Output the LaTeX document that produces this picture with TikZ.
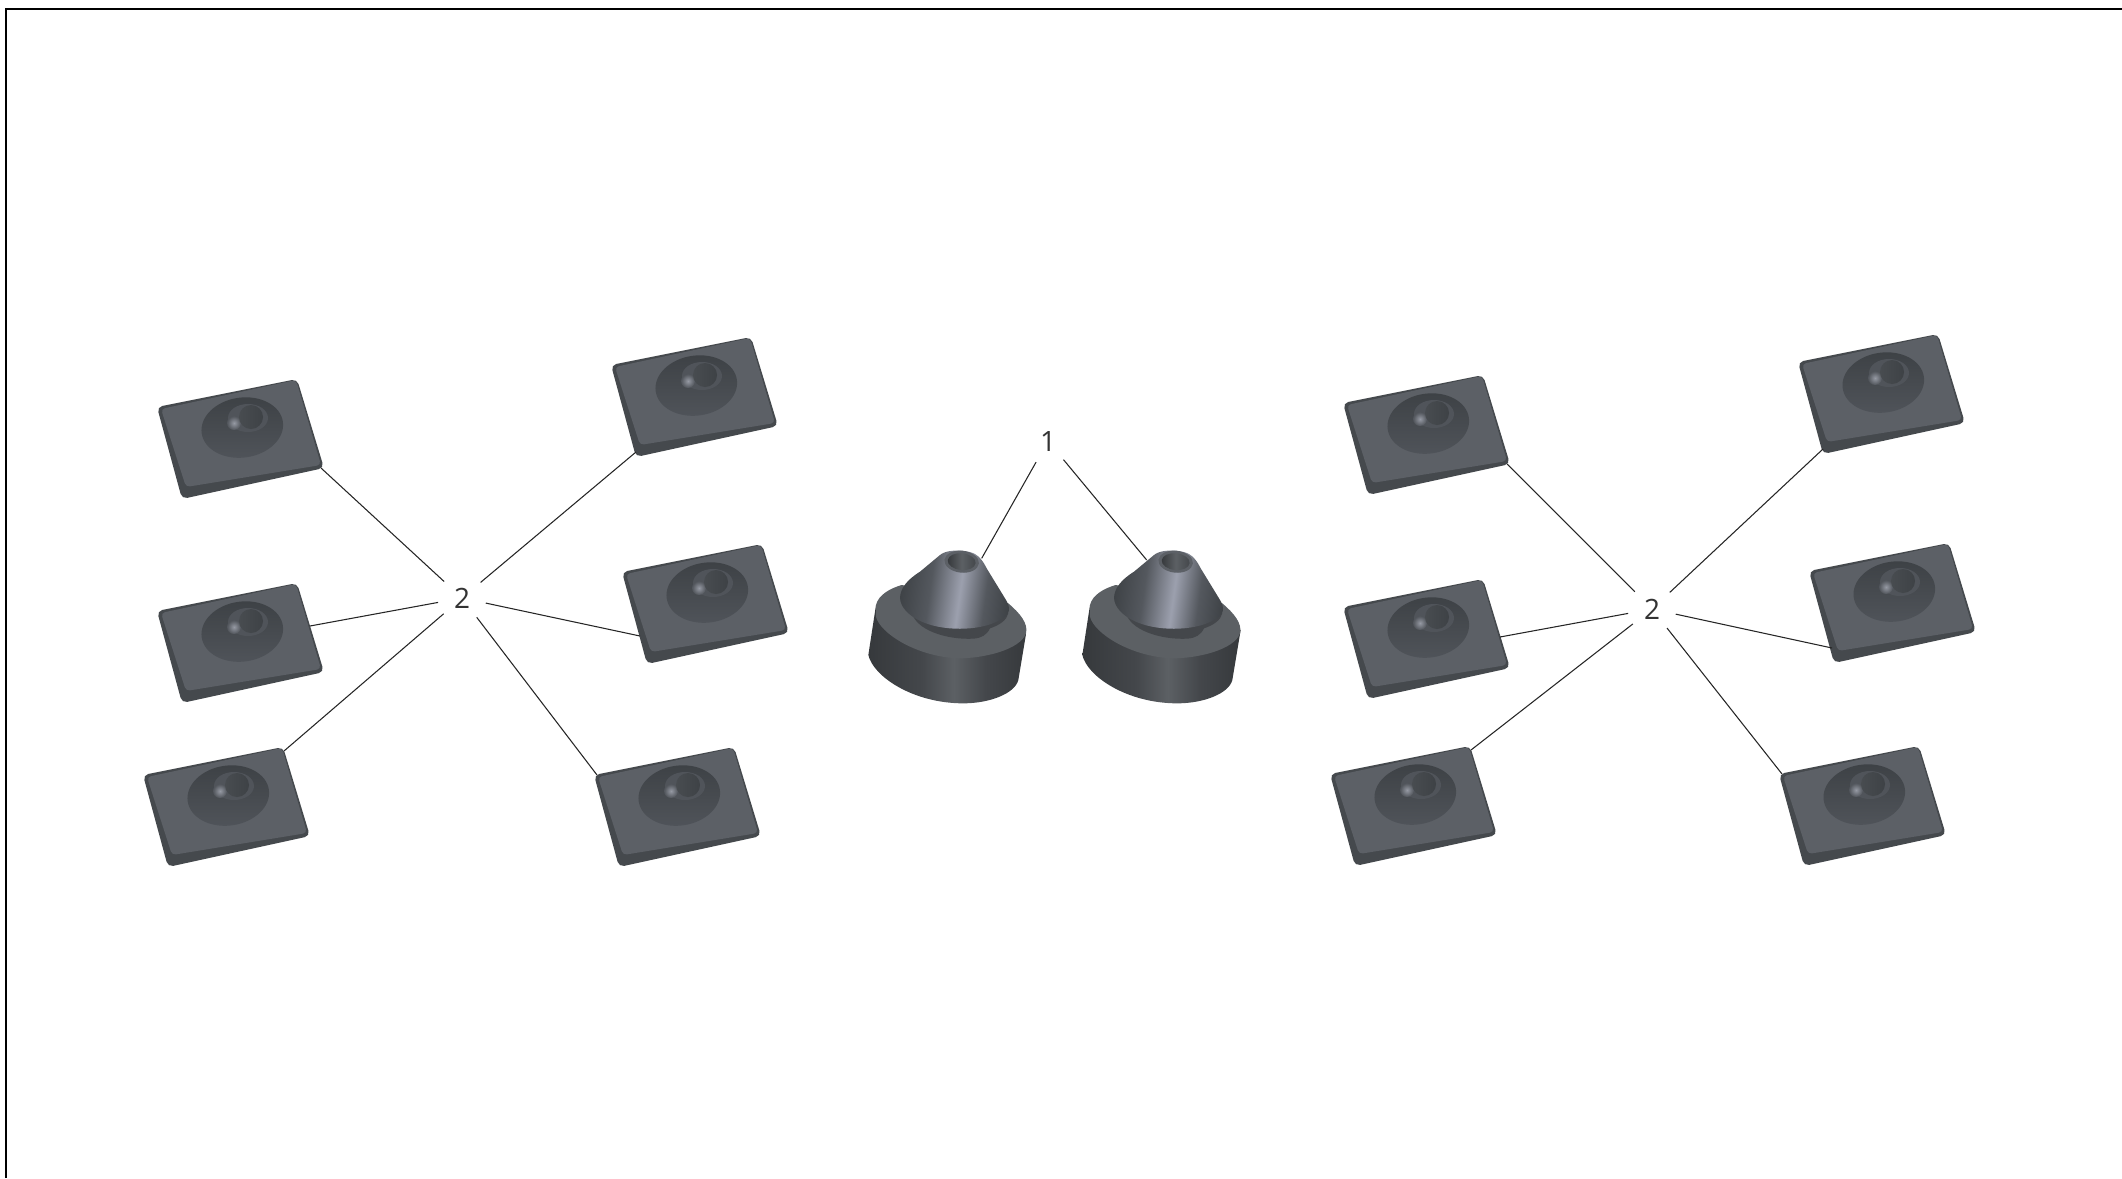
\documentclass[tikz,border=0pt]{standalone}
\usepackage{fontspec}
\setmainfont{Open Sans}
\definecolor{facegray}{HTML}{5C6066}
\definecolor{edgegray}{HTML}{45494D}
\definecolor{pitdark}{HTML}{3E4246}
\definecolor{pitlight}{HTML}{50545A}
\definecolor{pitmid}{HTML}{484C50}
\definecolor{glint}{HTML}{969AA4}
\definecolor{sidedark}{HTML}{36393C}
\definecolor{sidemid}{HTML}{44474B}
\definecolor{sidelight}{HTML}{5C6064}
\definecolor{conelight}{HTML}{9CA0AE}
\definecolor{conemid}{HTML}{54585E}
\definecolor{conedark}{HTML}{3F4347}
\definecolor{labelgray}{HTML}{333333}
\pgfdeclarehorizontalshading{bumpside}{100bp}{color(0bp)=(sidedark); color(25bp)=(sidedark); color(42bp)=(sidemid); color(52bp)=(sidelight); color(62bp)=(sidemid); color(75bp)=(sidedark); color(100bp)=(sidedark)}
\pgfdeclarehorizontalshading{bumpcone}{100bp}{color(0bp)=(conedark); color(25bp)=(conedark); color(38bp)=(conemid); color(52bp)=(conelight); color(64bp)=(conemid); color(75bp)=(conedark); color(100bp)=(conedark)}
\pgfdeclarehorizontalshading{bumphole}{100bp}{color(0bp)=(sidedark); color(25bp)=(sidedark); color(50bp)=(sidelight); color(75bp)=(sidemid); color(100bp)=(sidemid)}
\tikzset{
	leader/.style={draw=black!85,line width=0.8pt},
	partlabel/.style={circle,minimum size=36pt,inner sep=0pt,text=labelgray,font=\fontsize{21}{21}\selectfont},
	pics/plate/.style={code={
		\fill[edgegray,rounded corners=4] (-83,-33) -- (57,-61) -- (84,28) -- (-58,59) -- cycle;
		\fill[facegray,rounded corners=3] (-79,-31) -- (56,-60) -- (81,25) -- (-54,47) -- cycle;
		\shade[top color=pitdark,bottom color=pitlight,rotate=8] (4,-12) ellipse [x radius=41,y radius=30];
		\fill[pitlight] (8,-22) ellipse [x radius=20,y radius=14];
		\shade[inner color=glint,outer color=pitlight] (-6,-17) circle (7);
		\shade[left color=pitmid,right color=pitdark] (11,-23) circle (12);
		\coordinate (-br) at (81,28);
		\coordinate (-tr) at (58,-57);
		\coordinate (-bl) at (-58,54);
		\coordinate (-tl) at (-80,-33);
		\coordinate (-re) at (70,-18);
		\coordinate (-rf) at (74,-3);
		\coordinate (-le) at (-65,31);
		\coordinate (-lf) at (-60,44);
	}},
	pics/bump/.style={code={
		\begin{scope}[x=.25pt,y=-.25pt]
			\shade[shading=bumpside] (108,255) -- (85,405) .. controls (100,470) and (220,550) .. (370,550) .. controls (450,550) and (525,520) .. (535,480) -- (560,330) -- (330,260) -- cycle;
			\fill[sidelight] (108,255) .. controls (115,225) and (150,205) .. (185,195) -- (505,250) .. controls (540,280) and (565,310) .. (558,340) .. controls (540,390) and (430,415) .. (355,415) .. controls (230,410) and (120,340) .. (108,290) -- cycle;
			\fill[sidemid] (215,275) .. controls (225,330) and (320,360) .. (400,356) .. controls (425,354) and (440,345) .. (450,325) .. controls (480,315) and (500,300) .. (505,280) -- cycle;
			\shade[shading=bumpcone,shading angle=-8] (180,232) .. controls (182,205) and (200,180) .. (240,155) -- (300,105) .. controls (315,92) and (350,88) .. (385,95) .. controls (415,100) and (430,125) .. (440,145) -- (495,235) .. controls (515,265) and (510,285) .. (480,300) .. controls (420,335) and (300,335) .. (235,300) .. controls (205,285) and (180,260) .. (180,232) -- cycle;
			\fill[facegray,rotate around={-6:(365,125)}] (365,125) ellipse [x radius=52,y radius=33];
			\shade[shading=bumphole,rotate around={-6:(365,125)}] (365,125) ellipse [x radius=42,y radius=25];
			\coordinate (-ra) at (425,115);
			\coordinate (-lb) at (278,120);
		\end{scope}
	}}
}
\begin{document}
\begin{tikzpicture}[x=.75pt,y=-.75pt]
	\useasboundingbox (0,0) rectangle (2122,1178);

	% frame, open at right and bottom
	\coordinate (framea) at (6,1178);
	\coordinate (frameb) at (6,9);
	\coordinate (framec) at (2122,9);
	\draw[line width=1.7pt,line join=miter] (framea) -- (frameb) -- (framec);

	% plates
	\foreach \n/\px/\py in {pa/240/440,pb/240/644,pc/226/808,pd/694/398,pe/705/605,pf/677/808,pg/1426/436,ph/1426/640,pi/1413/807,pj/1881/395,pk/1892/604,pl/1862/807}
		\pic (\n) at (\px,\py) {plate};

	% bumps
	\pic (ba) at (840,520) {bump};
	\pic (bb) at (1054,520) {bump};

	% labels
	\node[partlabel] (lblone) at (1048,441) {1};
	\node[partlabel] (lbltwoa) at (462,598) {2};
	\node[partlabel] (lbltwob) at (1652,609) {2};

	% leaders
	\draw[leader] (lblone) -- (ba-ra);
	\draw[leader] (lblone) -- (bb-lb);
	\foreach \n/\a in {pa/br,pb/re,pc/tr,pd/bl,pe/le,pf/tl}
		\draw[leader] (lbltwoa) -- (\n-\a);
	\foreach \n/\a in {pg/br,ph/rf,pi/tr,pj/bl,pk/lf,pl/tl}
		\draw[leader] (lbltwob) -- (\n-\a);
\end{tikzpicture}
\end{document}
